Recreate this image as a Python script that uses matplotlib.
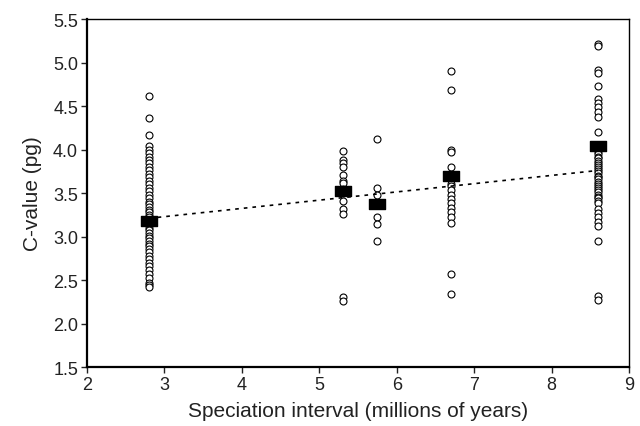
import matplotlib
matplotlib.use("Agg")
import matplotlib.pyplot as plt
from matplotlib.path import Path
import numpy as np

plt.rcParams['font.family'] = ['Liberation Sans', 'DejaVu Sans']

# Speciation interval groups (millions of years)
group_x = [2.8, 5.3, 5.75, 6.7, 8.6]

# C-values (pg) per group
cv_28 = [4.62, 4.36, 4.17, 4.04, 4.00, 3.96, 3.92, 3.88, 3.84, 3.80, 3.76, 3.72,
         3.68, 3.64, 3.60, 3.56, 3.52, 3.48, 3.44, 3.40, 3.37, 3.34, 3.31, 3.28,
         3.25, 3.22, 3.19, 3.16, 3.13, 3.10, 3.07, 3.04, 3.01, 2.98, 2.95, 2.92,
         2.89, 2.86, 2.82, 2.78, 2.74, 2.70, 2.66, 2.62, 2.57, 2.52, 2.47, 2.44, 2.42]
cv_53 = [3.98, 3.88, 3.84, 3.80, 3.71, 3.64, 3.62, 3.55, 3.50, 3.41, 3.32, 3.26, 2.30, 2.26]
cv_575 = [4.12, 3.56, 3.48, 3.22, 3.15, 2.95]
cv_67 = [4.90, 4.69, 4.00, 3.97, 3.80, 3.65, 3.61, 3.58, 3.53, 3.48, 3.43, 3.39,
         3.33, 3.28, 3.23, 3.16, 2.57, 2.34]
cv_86 = [5.21, 5.19, 4.91, 4.88, 4.73, 4.58, 4.53, 4.49, 4.43, 4.38, 4.20, 4.04,
         3.97, 3.95, 3.92, 3.90, 3.87, 3.85, 3.82, 3.80, 3.78, 3.75, 3.73, 3.70,
         3.68, 3.66, 3.63, 3.61, 3.58, 3.56, 3.53, 3.51, 3.48, 3.46, 3.44, 3.41,
         3.39, 3.32, 3.27, 3.22, 3.17, 3.12, 2.95, 2.32, 2.27]
groups = [cv_28, cv_53, cv_575, cv_67, cv_86]

# Group means
group_means = [3.18, 3.52, 3.37, 3.70, 4.04]

# Regression line end points
fit_x = [2.8, 8.6]
fit_y = [3.21, 3.76]

fig = plt.figure(figsize=(6.4, 4.27), dpi=100)
ax = fig.add_axes([0.136, 0.138, 0.847, 0.815])

for gx, vals in zip(group_x, groups):
    ax.plot([gx] * len(vals), vals, linestyle='none', marker='o', markersize=5.0,
            markerfacecolor='white', markeredgecolor='black', markeredgewidth=0.8, zorder=2)

rect = Path([(-1, -0.55), (1, -0.55), (1, 0.55), (-1, 0.55), (-1, -0.55)],
            [Path.MOVETO, Path.LINETO, Path.LINETO, Path.LINETO, Path.CLOSEPOLY])
ax.plot(group_x, group_means, linestyle='none', marker=rect, markersize=12,
        color='black', zorder=4)

ax.plot(fit_x, fit_y, color='black', linestyle=(0, (2.2, 3.0)), linewidth=1.2, zorder=3)

ax.set_xlim(2, 9)
ax.set_ylim(1.5, 5.5)
ax.set_xticks(range(2, 10))
ax.set_yticks(np.arange(1.5, 5.51, 0.5))
ax.set_yticklabels([f"{v:.1f}" for v in np.arange(1.5, 5.51, 0.5)])
ax.tick_params(direction='out', length=4.5, width=1, labelsize=13, colors='#222222', pad=2)
for s in ['left', 'bottom']:
    ax.spines[s].set_linewidth(1.6)
for s in ['top', 'right']:
    ax.spines[s].set_linewidth(1.0)

ax.set_xlabel('Speciation interval (millions of years)', fontsize=15, color='#222222', labelpad=6)
ax.set_ylabel('C-value (pg)', fontsize=15, color='#222222', labelpad=8)

fig.savefig('out.png', dpi=100)
